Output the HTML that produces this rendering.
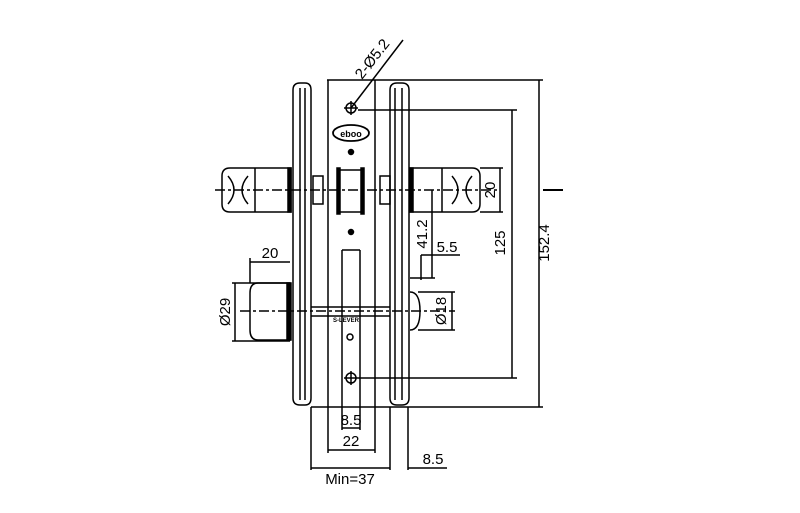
<!DOCTYPE html>
<html><head><style>
html,body{margin:0;padding:0;background:#fff;}
svg{display:block;}
text{font-family:"Liberation Sans",sans-serif;fill:#000;}
</style></head><body>
<svg width="800" height="513" viewBox="0 0 800 513" xmlns="http://www.w3.org/2000/svg">
<g stroke="#000" fill="none" stroke-width="1.5">
<path d="M293,90 Q293,83 300,83 L305,83 Q311,83 311,90 L311,398 Q311,405 305,405 L300,405 Q293,405 293,398 Z"/>
<line x1="300" y1="88" x2="300" y2="400"/>
<line x1="305" y1="88" x2="305" y2="400"/>
<path d="M390,90 Q390,83 397,83 L402,83 Q409,83 409,90 L409,398 Q409,405 402,405 L397,405 Q390,405 390,398 Z"/>
<line x1="395" y1="88" x2="395" y2="400"/>
<line x1="402" y1="88" x2="402" y2="400"/>
<line x1="327" y1="80" x2="543" y2="80"/>
<line x1="328" y1="80" x2="328" y2="453"/>
<line x1="375" y1="80" x2="375" y2="453"/>
<line x1="311" y1="407" x2="543" y2="407"/>
<line x1="342" y1="250" x2="342" y2="430"/>
<line x1="360" y1="250" x2="360" y2="430"/>
<line x1="342" y1="250" x2="360" y2="250"/>
<circle cx="351" cy="108" r="5"/><line x1="344" y1="108" x2="358" y2="108"/><line x1="351" y1="101" x2="351" y2="115"/>
<circle cx="351" cy="378" r="5"/><line x1="344" y1="378" x2="358" y2="378"/><line x1="351" y1="371" x2="351" y2="385"/>
<line x1="351" y1="108" x2="403" y2="40"/>
<line x1="358" y1="110" x2="517" y2="110"/>
<line x1="358" y1="378" x2="517" y2="378"/>
<ellipse cx="351" cy="133" rx="18" ry="8" stroke-width="1.8"/>
<circle cx="351" cy="152" r="2.5" fill="#000"/>
<circle cx="351" cy="232" r="2.5" fill="#000"/>
<circle cx="350" cy="337" r="3"/>
<rect x="339" y="170" width="24" height="42"/>
<rect x="337" y="168" width="3" height="46" fill="#000"/>
<rect x="361" y="168" width="3" height="46" fill="#000"/>
<rect x="313" y="176" width="10" height="28"/>
<rect x="380" y="176" width="10" height="28"/>
<path d="M230,168 L291,168 L291,212 L230,212 Q222,212 222,204 L222,176 Q222,168 230,168 Z"/>
<line x1="255" y1="168" x2="255" y2="212"/>
<rect x="288" y="168" width="3" height="44" fill="#000"/>
<path d="M228,176 Q240,190 228,204 M248,176 Q236,190 248,204"/>
<path d="M410,168 L472,168 Q480,168 480,176 L480,204 Q480,212 472,212 L410,212 Z"/>
<line x1="442" y1="168" x2="442" y2="212"/>
<rect x="410" y="168" width="3" height="44" fill="#000"/>
<path d="M452,176 Q464,190 452,204 M472,176 Q460,190 472,204"/>
<line x1="480" y1="168" x2="503" y2="168"/><line x1="480" y1="212" x2="503" y2="212"/>
<line x1="500" y1="168" x2="500" y2="212"/>
<line x1="543" y1="190" x2="563" y2="190" stroke-width="2"/>
<path d="M258,283 L290,283 L290,340 L258,340 Q250,340 250,330 L250,293 Q250,283 258,283 Z"/>
<rect x="287" y="283" width="4" height="57" fill="#000"/>
<path d="M410,292 Q420,292 420,311 Q420,330 410,330"/>
<line x1="311" y1="307" x2="390" y2="307"/>
<line x1="311" y1="316" x2="390" y2="316"/>
<line x1="215" y1="190" x2="500" y2="190" stroke-dasharray="10,3,3,3"/>
<line x1="240" y1="311" x2="455" y2="311" stroke-dasharray="10,3,3,3"/>
<line x1="539" y1="80" x2="539" y2="407"/>
<line x1="512" y1="110" x2="512" y2="378"/>
<line x1="432" y1="190" x2="432" y2="278"/>
<line x1="410" y1="278" x2="435" y2="278"/>
<line x1="421" y1="255" x2="460" y2="255"/>
<line x1="421" y1="255" x2="421" y2="280"/>
<line x1="232" y1="283" x2="290" y2="283"/><line x1="232" y1="341" x2="290" y2="341"/>
<line x1="235" y1="283" x2="235" y2="341"/>
<line x1="250" y1="258" x2="250" y2="283"/>
<line x1="250" y1="262" x2="290" y2="262"/>
<line x1="418" y1="292" x2="455" y2="292"/><line x1="418" y1="330" x2="455" y2="330"/>
<line x1="452" y1="292" x2="452" y2="330"/>
<line x1="342" y1="428" x2="360" y2="428"/>
<line x1="328" y1="450" x2="375" y2="450"/>
<line x1="311" y1="407" x2="311" y2="470"/>
<line x1="390" y1="407" x2="390" y2="470"/>
<line x1="311" y1="468" x2="390" y2="468"/>
<line x1="408" y1="407" x2="408" y2="470"/>
<line x1="408" y1="468" x2="447" y2="468"/>
</g>
<text x="351" y="137" font-size="9" text-anchor="middle" font-weight="bold">eboo</text>
<text x="346" y="322" font-size="6" text-anchor="middle" font-weight="bold">S-LEVER</text>
<text font-size="15" transform="translate(362,80) rotate(-52)">2-Ø5.2</text>
<text font-size="15" transform="translate(495,190) rotate(-90)" text-anchor="middle">20</text>
<text font-size="15" transform="translate(549,243) rotate(-90)" text-anchor="middle">152.4</text>
<text font-size="15" transform="translate(505,243) rotate(-90)" text-anchor="middle">125</text>
<text font-size="15" transform="translate(427,234) rotate(-90)" text-anchor="middle">41.2</text>
<text font-size="15" x="447" y="252" text-anchor="middle">5.5</text>
<text font-size="15" x="270" y="258" text-anchor="middle">20</text>
<text font-size="15" transform="translate(230,312) rotate(-90)" text-anchor="middle">Ø29</text>
<text font-size="15" transform="translate(446,311) rotate(-90)" text-anchor="middle">Ø18</text>
<text font-size="15" x="351" y="425" text-anchor="middle">8.5</text>
<text font-size="15" x="351" y="446" text-anchor="middle">22</text>
<text font-size="15" x="350" y="484" text-anchor="middle">Min=37</text>
<text font-size="15" x="433" y="464" text-anchor="middle">8.5</text>
</svg>
</body></html>
